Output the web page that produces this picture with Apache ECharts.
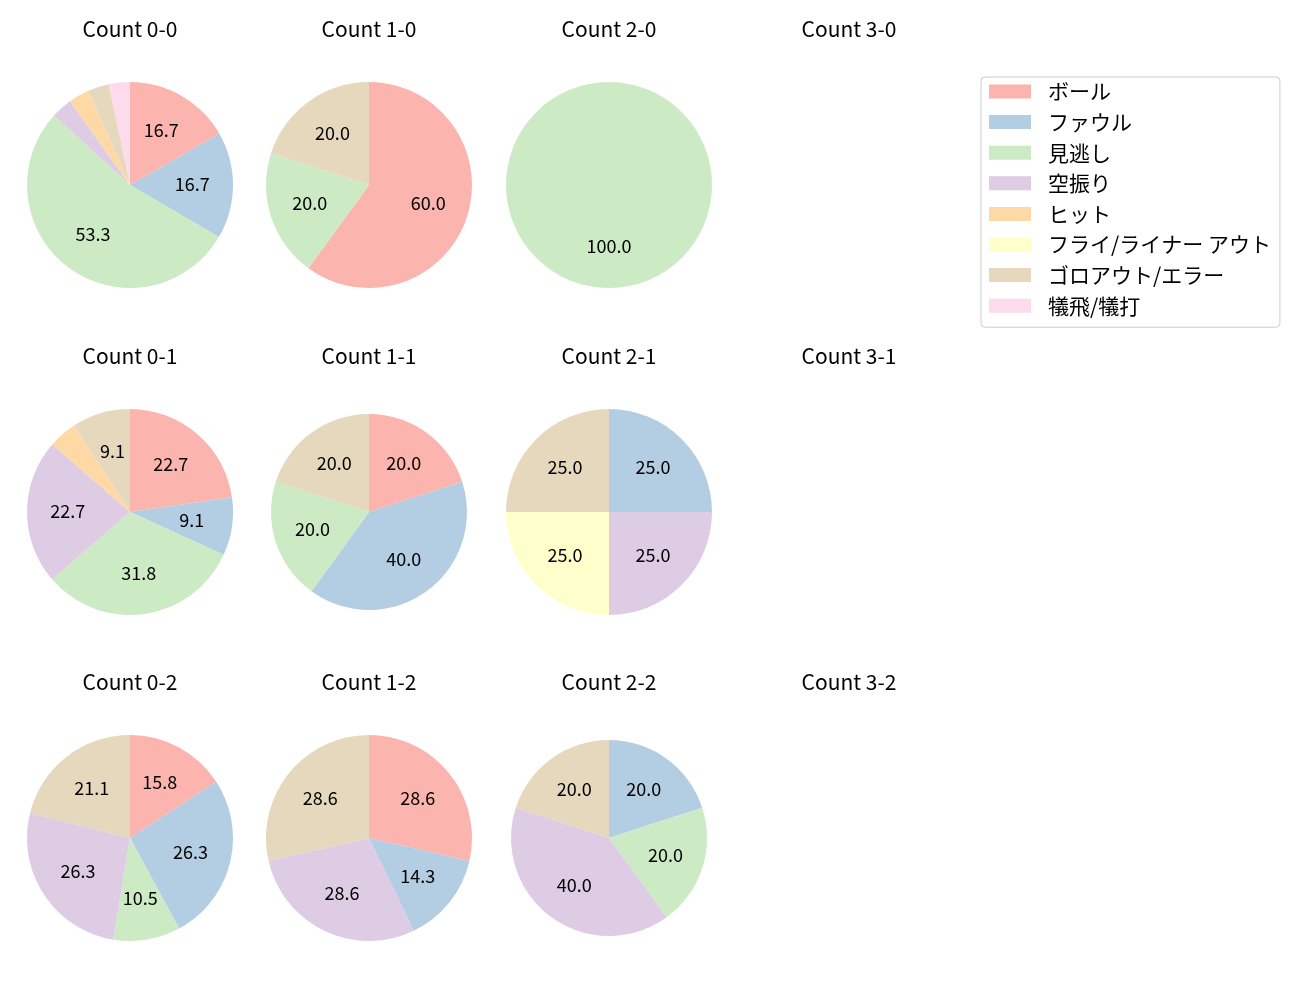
<!DOCTYPE html>
<html>
<head>
<meta charset="utf-8">
<script src="https://cdn.jsdelivr.net/npm/echarts@6/dist/echarts.min.js"></script>
<style>
  html, body { margin: 0; padding: 0; background: #fff; }
  #chart { width: 1300px; height: 1000px; }
</style>
</head>
<body>
<div id="chart"></div>
<script>
// 打席結果の分類
const categories = ['ボール', 'ファウル', '見逃し', '空振り', 'ヒット', 'フライ/ライナー アウト', 'ゴロアウト/エラー', '犠飛/犠打'];
const colors = ['#fbb4ae', '#b3cde3', '#ccebc5', '#decbe4', '#fed9a6', '#ffffcc', '#e5d8bd', '#fddaec'];

// カウント (行 = ストライク, 列 = ボール)
const countLabels = [
    ['0-0', '1-0', '2-0', '3-0'],
    ['0-1', '1-1', '2-1', '3-1'],
    ['0-2', '1-2', '2-2', '3-2']
];

// 各カウントの割合 (%) - categories の順
const count00 = [16.7, 16.7, 53.3, 3.3, 3.3, 0, 3.3, 3.3];
const count10 = [60.0, 0, 20.0, 0, 0, 0, 20.0, 0];
const count20 = [0, 0, 100.0, 0, 0, 0, 0, 0];
const count01 = [22.7, 9.1, 31.8, 22.7, 4.5, 0, 9.1, 0];
const count11 = [20.0, 40.0, 20.0, 0, 0, 0, 20.0, 0];
const count21 = [0, 25.0, 0, 25.0, 0, 25.0, 25.0, 0];
const count02 = [15.8, 26.3, 10.5, 26.3, 0, 0, 21.1, 0];
const count12 = [28.6, 14.3, 0, 28.6, 0, 0, 28.6, 0];
const count22 = [0, 20.0, 20.0, 40.0, 0, 0, 20.0, 0];

const pieValues = {
    '0-0': count00, '1-0': count10, '2-0': count20,
    '0-1': count01, '1-1': count11, '2-1': count21,
    '0-2': count02, '1-2': count12, '2-2': count22
};

const FONT = '"Noto Sans CJK JP", "Noto Sans", sans-serif';

document.addEventListener('DOMContentLoaded', function() {
    const chart = echarts.init(document.getElementById('chart'));

    // レイアウト
    const colX = [130, 369, 609, 849];
    const rowY = [185, 512, 838];
    const titleY = [29, 356, 682];
    const smallPies = { '1-1': 98, '2-2': 98 };

    const pies = [];
    const overlays = [];
    const titles = [];

    countLabels.forEach((row, r) => {
        row.forEach((label, c) => {
            titles.push({
                type: 'text',
                x: colX[c],
                y: titleY[r],
                style: {
                    text: 'Count ' + label,
                    font: '21px ' + FONT,
                    fill: '#000',
                    textAlign: 'center',
                    textVerticalAlign: 'middle'
                }
            });
            const vals = pieValues[label];
            if (!vals) return;
            const radius = smallPies[label] || 103;
            const data = [];
            vals.forEach((v, i) => {
                if (v > 0) {
                    data.push({ name: categories[i], value: v, itemStyle: { color: colors[i] } });
                }
            });
            pies.push({
                type: 'pie',
                center: [colX[c], rowY[r]],
                radius: [0, radius],
                startAngle: 90,
                clockwise: true,
                label: { show: false },
                labelLine: { show: false },
                emphasis: { disabled: true },
                animation: false,
                data: data
            });
            // ラベル用の透明な円 (半径の約0.6の位置に配置)
            overlays.push({
                type: 'pie',
                center: [colX[c], rowY[r]],
                radius: [radius * 0.2 - 5, radius],
                startAngle: 90,
                clockwise: true,
                silent: true,
                legendHoverLink: false,
                itemStyle: { color: 'rgba(0,0,0,0)' },
                label: {
                    show: true,
                    position: 'inside',
                    color: '#000',
                    fontSize: 18,
                    fontFamily: FONT,
                    offset: [0, -1],
                    formatter: function(p) {
                        return p.value >= 5 ? p.value.toFixed(1) : '';
                    }
                },
                labelLine: { show: false },
                emphasis: { disabled: true },
                animation: false,
                data: data.map(d => ({ name: d.name, value: d.value, itemStyle: { color: 'rgba(0,0,0,0)' } }))
            });
        });
    });

    const option = {
        backgroundColor: '#fff',
        animation: false,
        graphic: titles,
        legend: {
            orient: 'vertical',
            left: 981,
            top: 77,
            data: categories,
            icon: 'rect',
            itemWidth: 42,
            itemHeight: 14,
            itemGap: 9.6,
            padding: [4, 9, 11, 8],
            borderColor: '#ccc',
            borderWidth: 1,
            borderRadius: 4,
            selectedMode: false,
            textStyle: {
                fontSize: 21,
                fontFamily: FONT,
                color: '#000',
                padding: [0, 0, 0, 12]
            }
        },
        series: pies.concat(overlays)
    };

    chart.setOption(option);

    window.addEventListener('resize', function() {
        chart.resize();
    });
});
</script>
</body>
</html>
